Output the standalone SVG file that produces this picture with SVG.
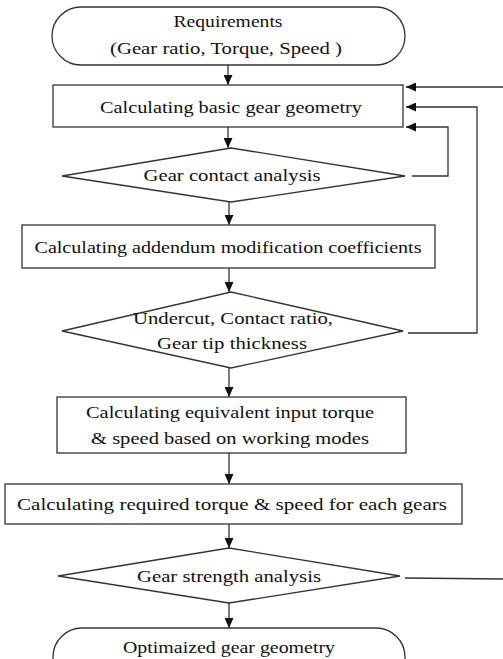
<svg xmlns="http://www.w3.org/2000/svg" width="503" height="659" viewBox="0 0 503 659">
<style>
.s{fill:#fff;stroke:#333;stroke-width:1.3}
.t{font-family:"Liberation Serif","DejaVu Serif",serif;font-size:17px;fill:#111;text-anchor:middle}
.c{fill:none;stroke:#333;stroke-width:1.3}
</style>
<defs>
<marker id="a" markerWidth="10" markerHeight="9" refX="10" refY="4.5" orient="auto" markerUnits="userSpaceOnUse"><path d="M0,0L10,4.5L0,9Z" fill="#111"/></marker>
</defs>
<rect width="503" height="659" fill="#fff"/>
<g id="connectors">
<line class="c" x1="228" y1="65" x2="228" y2="85" marker-end="url(#a)"/>
<line class="c" x1="228" y1="127" x2="228" y2="148" marker-end="url(#a)"/>
<line class="c" x1="229" y1="202" x2="229" y2="225" marker-end="url(#a)"/>
<line class="c" x1="229" y1="268" x2="229" y2="292" marker-end="url(#a)"/>
<line class="c" x1="229" y1="368" x2="229" y2="397" marker-end="url(#a)"/>
<line class="c" x1="229" y1="453" x2="229" y2="484" marker-end="url(#a)"/>
<line class="c" x1="229" y1="524" x2="229" y2="548" marker-end="url(#a)"/>
<line class="c" x1="229" y1="603" x2="229" y2="628" marker-end="url(#a)"/>
<polyline class="c" points="503,87 406,87" marker-end="url(#a)"/>
<polyline class="c" points="408,333 477,333 477,107 406,107" marker-end="url(#a)"/>
<polyline class="c" points="412,176 448,176 448,127 406,127" marker-end="url(#a)"/>
<polyline class="c" points="405,578 503,579"/>
</g>
<g id="n1"><rect class="s" x="52" y="7" width="353" height="58" rx="29"/>
<text class="t" x="228" y="27" textLength="109" lengthAdjust="spacingAndGlyphs">Requirements</text>
<text class="t" x="226" y="54" textLength="232" lengthAdjust="spacingAndGlyphs">(Gear ratio, Torque, Speed )</text></g>
<g id="n2"><rect class="s" x="53" y="85" width="350" height="42"/>
<text class="t" x="231" y="113" textLength="262" lengthAdjust="spacingAndGlyphs">Calculating basic gear geometry</text></g>
<g id="n3"><polygon class="s" points="62,176 231,148 405,176 231,202"/>
<text class="t" x="232" y="181" textLength="177" lengthAdjust="spacingAndGlyphs">Gear contact analysis</text></g>
<g id="n4"><rect class="s" x="22" y="225" width="413" height="43"/>
<text class="t" x="228" y="253" textLength="387" lengthAdjust="spacingAndGlyphs">Calculating addendum modification coefficients</text></g>
<g id="n5"><polygon class="s" points="62,331 231,292 403,331 231,368"/>
<text class="t" x="233" y="324" textLength="200" lengthAdjust="spacingAndGlyphs">Undercut, Contact ratio,</text>
<text class="t" x="232" y="349" textLength="150" lengthAdjust="spacingAndGlyphs">Gear tip thickness</text></g>
<g id="n6"><rect class="s" x="57" y="397" width="349" height="56"/>
<text class="t" x="230" y="418" textLength="288" lengthAdjust="spacingAndGlyphs">Calculating equivalent input torque</text>
<text class="t" x="230" y="444" textLength="278" lengthAdjust="spacingAndGlyphs">&amp; speed based on working modes</text></g>
<g id="n7"><rect class="s" x="5" y="484" width="457" height="40"/>
<text class="t" x="232" y="510" textLength="430" lengthAdjust="spacingAndGlyphs">Calculating required torque &amp; speed for each gears</text></g>
<g id="n8"><polygon class="s" points="58,576 229,548 400,576 229,603"/>
<text class="t" x="229" y="582" textLength="184" lengthAdjust="spacingAndGlyphs">Gear strength analysis</text></g>
<g id="n9"><rect class="s" x="53" y="628" width="352" height="62" rx="29"/>
<text class="t" x="229" y="653" textLength="212" lengthAdjust="spacingAndGlyphs">Optimaized gear geometry</text></g>
</svg>
